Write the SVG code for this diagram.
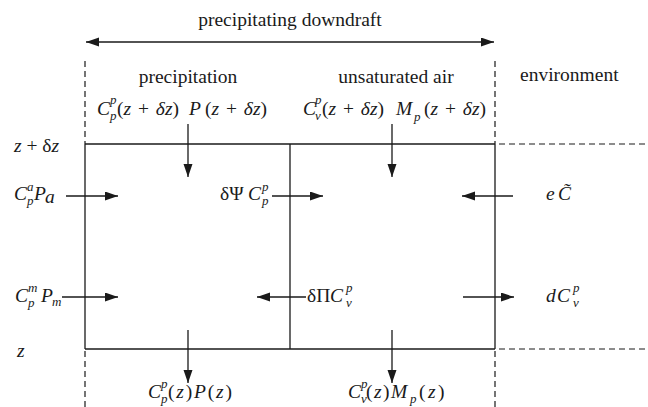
<svg xmlns="http://www.w3.org/2000/svg" width="648" height="407" viewBox="0 0 648 407">
<style>
text{font-family:"Liberation Serif","DejaVu Serif",serif;fill:#1a1a1a}
.t{font-size:19.5px}
.i{font-size:19.5px;font-style:italic}
.s{font-size:13px;font-style:italic}
.it{font-style:italic}
.ln{stroke:#1a1a1a;stroke-width:1.3;fill:none}
.ds{stroke:#1a1a1a;stroke-width:1.2;fill:none;stroke-dasharray:6 4}
.ar{stroke:#1a1a1a;stroke-width:1.3;fill:none;marker-end:url(#ah)}
</style>
<defs>
<marker id="ah" markerUnits="userSpaceOnUse" markerWidth="14" markerHeight="10" refX="13" refY="4.5" orient="auto-start-reverse">
<path d="M0,0 L13,4.5 L0,9 z" fill="#1a1a1a"/>
</marker>
</defs>

<g id="frame">
<line class="ln" x1="85" y1="144" x2="495" y2="144"/>
<line class="ln" x1="85" y1="349" x2="495" y2="349"/>
<line class="ln" x1="85" y1="144" x2="85" y2="349"/>
<line class="ln" x1="290" y1="144" x2="290" y2="349"/>
<line class="ln" x1="495" y1="144" x2="495" y2="349"/>
<line class="ds" x1="85" y1="61" x2="85" y2="144"/>
<line class="ds" x1="495" y1="61" x2="495" y2="144"/>
<line class="ds" x1="85" y1="351" x2="85" y2="407"/>
<line class="ds" x1="495" y1="351" x2="495" y2="407"/>
<line class="ds" x1="499" y1="144" x2="645" y2="144"/>
<line class="ds" x1="499" y1="349" x2="645" y2="349"/>
</g>

<g id="connectors">
<line class="ln" x1="86" y1="42" x2="494" y2="42" style="marker-start:url(#ah);marker-end:url(#ah)"/>
<line class="ar" x1="188" y1="124" x2="188" y2="177"/>
<line class="ar" x1="392" y1="124" x2="392" y2="177"/>
<line class="ar" x1="188" y1="330" x2="188" y2="383"/>
<line class="ar" x1="392" y1="330" x2="392" y2="383"/>
<line class="ar" x1="66" y1="196" x2="118" y2="196"/>
<line class="ar" x1="272" y1="196" x2="323" y2="196"/>
<line class="ar" x1="513" y1="196" x2="462" y2="196"/>
<line class="ar" x1="62" y1="297" x2="118" y2="297"/>
<line class="ar" x1="306" y1="297" x2="257" y2="297"/>
<line class="ar" x1="463" y1="297" x2="514" y2="297"/>
</g>

<g id="headings">
<text class="t" x="290" y="26" text-anchor="middle">precipitating downdraft</text>
<text class="t" x="188" y="83" text-anchor="middle">precipitation</text>
<text class="t" x="396" y="83" text-anchor="middle">unsaturated air</text>
<text class="t" x="520" y="81">environment</text>
</g>

<g id="top-precip-flux">
<text class="i" x="97" y="115">C</text>
<text class="s" x="110" y="104">p</text>
<text class="s" x="110" y="120">p</text>
<text class="t" x="117" y="115">(<tspan class="it">z</tspan> <tspan dx="2">+</tspan> <tspan class="it" dx="2">δz</tspan>)</text>
<text class="i" x="189" y="115">P</text>
<text class="t" x="205" y="115">(<tspan class="it">z</tspan> <tspan dx="2">+</tspan> <tspan class="it" dx="2">δz</tspan>)</text>
</g>

<g id="top-air-flux">
<text class="i" x="303" y="115">C</text>
<text class="s" x="315" y="104">p</text>
<text class="s" x="315" y="120">v</text>
<text class="t" x="322" y="115">(<tspan class="it">z</tspan> <tspan dx="2">+</tspan> <tspan class="it" dx="2">δz</tspan>)</text>
<text class="i" x="396" y="115">M</text>
<text class="s" x="414" y="121">p</text>
<text class="t" x="424" y="115">(<tspan class="it">z</tspan> <tspan dx="2">+</tspan> <tspan class="it" dx="2">δz</tspan>)</text>
</g>

<g id="level-labels">
<text class="t" x="14" y="152"><tspan class="it">z</tspan> + δ<tspan class="it">z</tspan></text>
<text class="i" x="17" y="357">z</text>
</g>

<g id="autoconv">
<text class="i" x="14" y="200">C</text>
<text class="s" x="27" y="191">a</text>
<text class="s" x="27" y="205">p</text>
<text class="i" x="34" y="200">P</text>
<text class="i" x="45" y="203" font-size="15">a</text>
</g>

<g id="melt">
<text class="i" x="15" y="302">C</text>
<text class="s" x="28" y="292">m</text>
<text class="s" x="28" y="307">p</text>
<text class="i" x="41" y="302">P</text>
<text class="s" x="52" y="306" font-size="14">m</text>
</g>

<g id="evap-psi">
<text class="t" x="220" y="200">δΨ</text>
<text class="i" x="248" y="200">C</text>
<text class="s" x="262" y="191">p</text>
<text class="s" x="262" y="205">p</text>
</g>

<g id="evap-pi">
<text class="t" x="307" y="302">δΠ</text>
<text class="i" x="330" y="302">C</text>
<text class="s" x="346" y="292">p</text>
<text class="s" x="346" y="307">v</text>
</g>

<g id="entrain">
<text class="i" x="546" y="200">e</text>
<text class="i" x="558" y="200">C&#x303;</text>
</g>

<g id="detrain">
<text class="i" x="546" y="302">d</text>
<text class="i" x="557" y="302">C</text>
<text class="s" x="573" y="292">p</text>
<text class="s" x="573" y="307">v</text>
</g>

<g id="bottom-precip-flux">
<text class="i" x="148" y="398">C</text>
<text class="s" x="161" y="388">p</text>
<text class="s" x="161" y="403">p</text>
<text class="t" x="168" y="398" letter-spacing="1.8">(<tspan class="it">z</tspan>)<tspan class="it">P</tspan>(<tspan class="it">z</tspan>)</text>
</g>

<g id="bottom-air-flux">
<text class="i" x="348" y="398">C</text>
<text class="s" x="361" y="388">p</text>
<text class="s" x="361" y="403">v</text>
<text class="t" x="366" y="398" letter-spacing="1.5">(<tspan class="it">z</tspan>)<tspan class="it">M</tspan></text>
<text class="s" x="410" y="403">p</text>
<text class="t" x="419" y="398" letter-spacing="2.5">(<tspan class="it">z</tspan>)</text>
</g>
</svg>
